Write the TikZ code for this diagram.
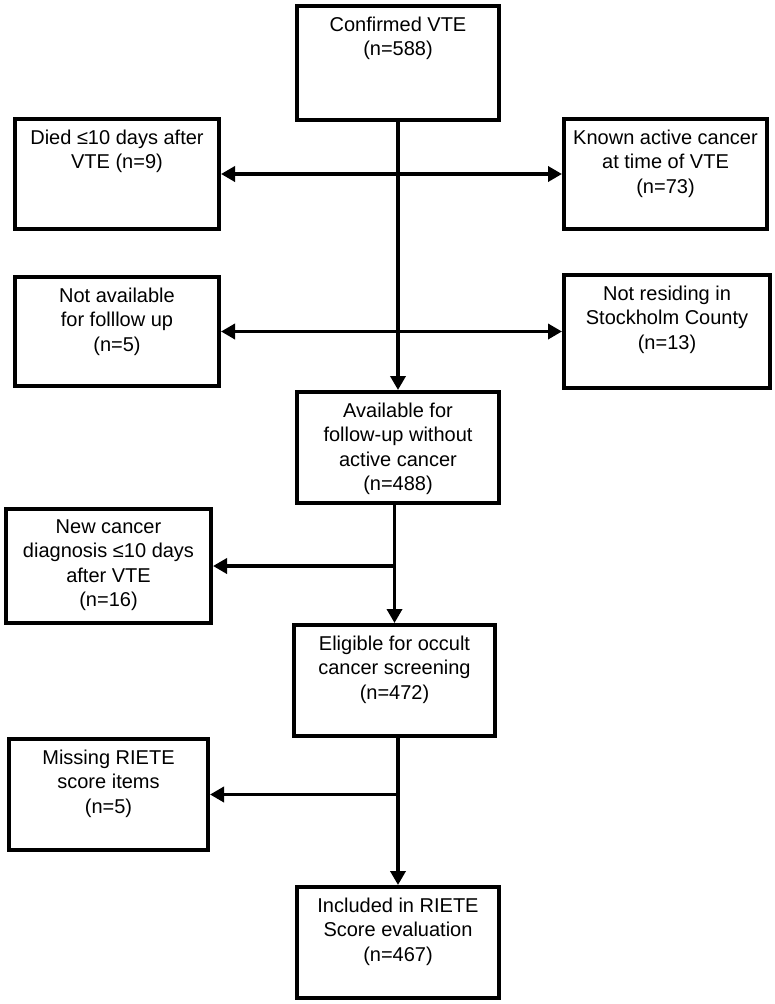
\documentclass[tikz,border=0pt]{standalone}
\usepackage{fontspec}
\setmainfont{Liberation Sans}
\usetikzlibrary{arrows.meta}
\tikzset{
  flowbox/.style={draw, line width=4pt, inner sep=0pt, anchor=north west},
  flowtext/.style={anchor=north, align=center, inner sep=0pt, font=\fontsize{20}{24.5}\selectfont},
  flowtip/.tip={Triangle[length=14pt,width=15pt]},
  flowarrow/.style={line width=3.5pt, -flowtip},
  flowboth/.style={line width=3.5pt, flowtip-flowtip}
}

\begin{document}
\begin{tikzpicture}[x=1pt,y=-1pt]
  \useasboundingbox (0,0) rectangle (774,1004);
  % boxes
  \node[flowbox, minimum width=202pt, minimum height=114pt] (conf)   at (295,4)   {};
  \node[flowbox, minimum width=204pt, minimum height=110pt] (died)   at (13,117)  {};
  \node[flowbox, minimum width=203pt, minimum height=110pt] (known)  at (562,117) {};
  \node[flowbox, minimum width=204pt, minimum height=109pt] (navail) at (13,275)  {};
  \node[flowbox, minimum width=206pt, minimum height=113pt] (nres)   at (562,273) {};
  \node[flowbox, minimum width=202pt, minimum height=111pt] (avail)  at (295,390) {};
  \node[flowbox, minimum width=205pt, minimum height=114pt] (newc)   at (4,507)   {};
  \node[flowbox, minimum width=201pt, minimum height=111pt] (elig)   at (292,623) {};
  \node[flowbox, minimum width=199pt, minimum height=111pt] (miss)   at (7,737)   {};
  \node[flowbox, minimum width=202pt, minimum height=111pt] (incl)   at (295,885) {};
  % texts
  \node[flowtext] (conftxt)   at ([yshift=-12.5pt]conf.north)   {Confirmed VTE\\(n=588)};
  \node[flowtext] (diedtxt)   at ([yshift=-12.5pt]died.north)   {Died ≤10 days after\\VTE (n=9)};
  \node[flowtext] (knowntxt)  at ([yshift=-12.5pt]known.north)  {Known active cancer\\at time of VTE\\(n=73)};
  \node[flowtext] (navailtxt) at ([yshift=-12.5pt]navail.north) {Not available\\for folllow up\\(n=5)};
  \node[flowtext] (nrestxt)   at ([yshift=-12.5pt]nres.north)   {Not residing in\\Stockholm County\\(n=13)};
  \node[flowtext] (availtxt)  at ([yshift=-12.5pt]avail.north)  {Available for\\follow-up without\\active cancer\\(n=488)};
  \node[flowtext] (newctxt)   at ([yshift=-12.5pt]newc.north)   {New cancer\\diagnosis ≤10 days\\after VTE\\(n=16)};
  \node[flowtext] (eligtxt)   at ([yshift=-12.5pt]elig.north)   {Eligible for occult\\cancer screening\\(n=472)};
  \node[flowtext] (misstxt)   at ([yshift=-12.5pt]miss.north)   {Missing RIETE\\score items\\(n=5)};
  \node[flowtext] (incltxt)   at ([yshift=-12.5pt]incl.north)   {Included in RIETE\\Score evaluation\\(n=467)};
  % connectors
  \draw[flowboth] (died.east) -- (known.west);
  \draw[flowboth] (navail.east) -- (nres.west);
  \draw[flowarrow] (conf.south) -- (avail.north);
  \coordinate (split1) at (avail.south -| elig.north);
  \coordinate (side1) at (split1 |- newc.east);
  \draw[flowarrow] (split1) -- (elig.north);
  \draw[flowarrow] (side1) -- (newc.east);
  \coordinate (split2) at (elig.south -| incl.north);
  \coordinate (side2) at (split2 |- miss.east);
  \draw[flowarrow] (split2) -- (incl.north);
  \draw[flowarrow] (side2) -- (miss.east);
\end{tikzpicture}
\end{document}
